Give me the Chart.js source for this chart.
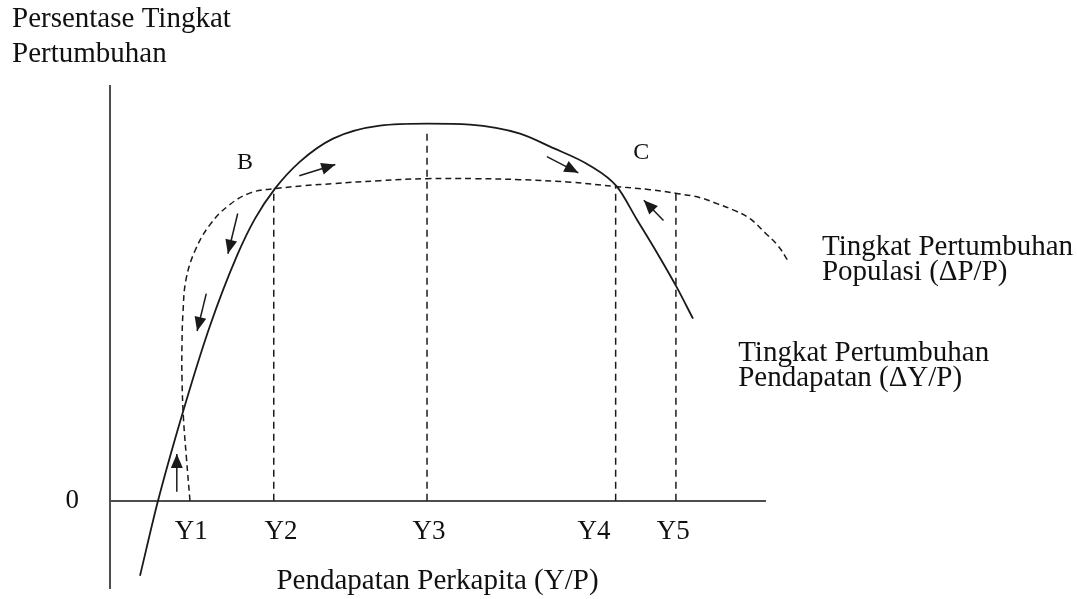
<!DOCTYPE html>
<html>
<head>
<meta charset="utf-8">
<script src="https://cdn.jsdelivr.net/npm/chart.js@4.4.0/dist/chart.umd.min.js"></script>
<style>
  html, body { margin: 0; padding: 0; background: #fff; }
  canvas { display: block; }
</style>
</head>
<body>
<canvas id="growthChart" width="1077" height="599"></canvas>
<script>
// kurva tingkat pertumbuhan pendapatan (garis utuh)
const incomeX = [4.58, 7.33, 11.60, 15.27, 19.39, 22.14, 25.19, 29.01, 34.05, 41.22, 48.40, 54.96, 62.60, 67.18, 73.28, 77.40, 80.46, 83.51, 86.56, 89.01];
const incomeY = [-18.07, 0, 23.86, 42.17, 59.04, 67.95, 75.18, 81.69, 87.23, 90.36, 90.84, 90.60, 88.43, 85.30, 80.72, 75.66, 67.71, 59.76, 51.33, 43.86];

// kurva tingkat pertumbuhan populasi (garis putus-putus)
const popX = [12.21, 11.68, 11.22, 10.99, 10.99, 11.15, 11.60, 12.98, 15.27, 18.17, 21.53, 25.19, 29.77, 34.05, 41.22, 48.40, 55.73, 62.60, 70.23, 77.40, 82.44, 86.72, 90.08, 92.67, 95.42, 97.71, 100.0, 101.98, 103.51];
const popY = [0, 10.12, 19.76, 29.40, 37.83, 45.54, 53.25, 60.24, 66.51, 71.20, 74.22, 75.18, 75.90, 76.39, 77.11, 77.59, 77.59, 77.35, 76.75, 75.66, 74.94, 73.98, 73.01, 71.57, 69.88, 67.95, 64.58, 61.45, 57.83];

// garis bantu vertikal Y2..Y5
const guideX = [25.0, 48.4, 77.2, 86.4];
const guideTop = [75.2, 89.2, 75.7, 74.1];

// label sumbu x
const tickNames = ['Y1', 'Y2', 'Y3', 'Y4', 'Y5'];
const tickPos = [12.4, 26.1, 48.7, 73.9, 86.0];

// panah arah (pangkal -> ujung)
const arrowFrom = [[10.2, 2.2], [14.7, 49.9], [19.5, 69.2], [28.9, 78.3], [66.7, 82.9], [84.5, 67.5]];
const arrowTo = [[10.2, 11.3], [13.3, 40.9], [18.0, 59.5], [34.4, 81.0], [71.5, 79.0], [81.5, 72.4]];

// teks keterangan
const notes = [
    { lines: ['B'], x: 20.6, y: 81.4, size: 24, align: 'center', gap: 0 },
    { lines: ['C'], x: 81.1, y: 83.8, size: 24, align: 'center', gap: 0 },
    { lines: ['Tingkat Pertumbuhan', 'Populasi (\u0394P/P)'], x: 108.7, y: 61.0, size: 29, align: 'left', gap: 25 },
    { lines: ['Tingkat Pertumbuhan', 'Pendapatan (\u0394Y/P)'], x: 95.9, y: 35.4, size: 29, align: 'left', gap: 25 }
];

const serif = "'Liberation Serif', 'Times New Roman', serif";
Chart.defaults.font.family = serif;
Chart.defaults.color = '#111';

const ink = '#1a1a1a';
const datasets = [];

datasets.push({
    label: 'Pendapatan',
    data: incomeX.map((v, i) => ({ x: v, y: incomeY[i] })),
    borderColor: ink,
    borderWidth: 1.8,
    cubicInterpolationMode: 'monotone',
    clip: false
});

datasets.push({
    label: 'Populasi',
    data: popX.map((v, i) => ({ x: v, y: popY[i] })),
    borderColor: ink,
    borderWidth: 1.5,
    borderDash: [6, 4],
    tension: 0.4,
    clip: false
});

guideX.forEach((v, i) => {
    datasets.push({
        label: 'garis' + i,
        data: [{ x: v, y: 0 }, { x: v, y: guideTop[i] }],
        borderColor: ink,
        borderWidth: 1.5,
        borderDash: [7, 5]
    });
});

arrowFrom.forEach((p, i) => {
    datasets.push({
        label: 'panah' + i,
        arrow: true,
        data: [{ x: p[0], y: p[1] }, { x: arrowTo[i][0], y: arrowTo[i][1] }],
        borderColor: ink,
        borderWidth: 1.5
    });
});

// kepala panah
const arrowHeads = {
    id: 'arrowHeads',
    afterDatasetsDraw(chart) {
        const ctx = chart.ctx;
        ctx.save();
        ctx.fillStyle = ink;
        chart.data.datasets.forEach((ds, i) => {
            if (!ds.arrow) return;
            const pts = chart.getDatasetMeta(i).data;
            const a = pts[0], b = pts[1];
            const ang = Math.atan2(b.y - a.y, b.x - a.x);
            const len = 14, half = 6;
            ctx.beginPath();
            ctx.moveTo(b.x, b.y);
            ctx.lineTo(b.x - len * Math.cos(ang) + half * Math.sin(ang), b.y - len * Math.sin(ang) - half * Math.cos(ang));
            ctx.lineTo(b.x - len * Math.cos(ang) - half * Math.sin(ang), b.y - len * Math.sin(ang) + half * Math.cos(ang));
            ctx.closePath();
            ctx.fill();
        });
        ctx.restore();
    }
};

// teks B, C dan nama kurva
const curveNotes = {
    id: 'curveNotes',
    afterDraw(chart) {
        const { ctx, scales: { x, y } } = chart;
        ctx.save();
        ctx.fillStyle = '#111';
        ctx.textBaseline = 'middle';
        notes.forEach(n => {
            ctx.font = n.size + 'px ' + serif;
            ctx.textAlign = n.align;
            const px = x.getPixelForValue(n.x);
            const py = y.getPixelForValue(n.y);
            n.lines.forEach((t, k) => ctx.fillText(t, px, py + k * n.gap));
        });
        ctx.restore();
    }
};

new Chart(document.getElementById('growthChart'), {
    type: 'line',
    data: { datasets: datasets },
    plugins: [arrowHeads, curveNotes],
    options: {
        responsive: false,
        animation: false,
        events: [],
        elements: { point: { radius: 0 }, line: { fill: false } },
        layout: { padding: { left: 12, right: 312, top: 0, bottom: 11 } },
        plugins: {
            legend: { display: false },
            tooltip: { enabled: false },
            title: {
                display: true,
                align: 'start',
                text: ['Persentase Tingkat', 'Pertumbuhan'],
                color: '#111',
                font: { family: serif, size: 29, weight: 'normal' },
                padding: { top: 2, bottom: 14 }
            }
        },
        scales: {
            x: {
                type: 'linear',
                min: 0,
                max: 100,
                position: { y: 0 },
                grid: { display: false, drawTicks: false },
                border: { display: true, color: '#4d4d4d', width: 2 },
                afterBuildTicks: scale => { scale.ticks = tickPos.map(v => ({ value: v })); },
                ticks: {
                    autoSkip: false,
                    maxRotation: 0,
                    padding: 15,
                    color: '#111',
                    font: { size: 27 },
                    callback: (v, i) => tickNames[i]
                },
                title: {
                    display: true,
                    text: 'Pendapatan Perkapita (Y/P)',
                    color: '#111',
                    font: { size: 29 },
                    padding: { top: 1, bottom: 0 }
                }
            },
            y: {
                type: 'linear',
                min: -21,
                max: 100,
                position: 'left',
                grid: { display: false, drawTicks: false },
                border: { display: true, color: '#4d4d4d', width: 2 },
                afterBuildTicks: scale => { scale.ticks = [{ value: 0 }]; },
                afterFit: scale => {
                    scale.width = 98;
                    scale.paddingTop = 0;
                    scale.paddingBottom = 0;
                },
                ticks: {
                    padding: 31,
                    color: '#111',
                    font: { size: 27 },
                    callback: () => '0'
                }
            }
        }
    }
});
</script>
</body>
</html>
